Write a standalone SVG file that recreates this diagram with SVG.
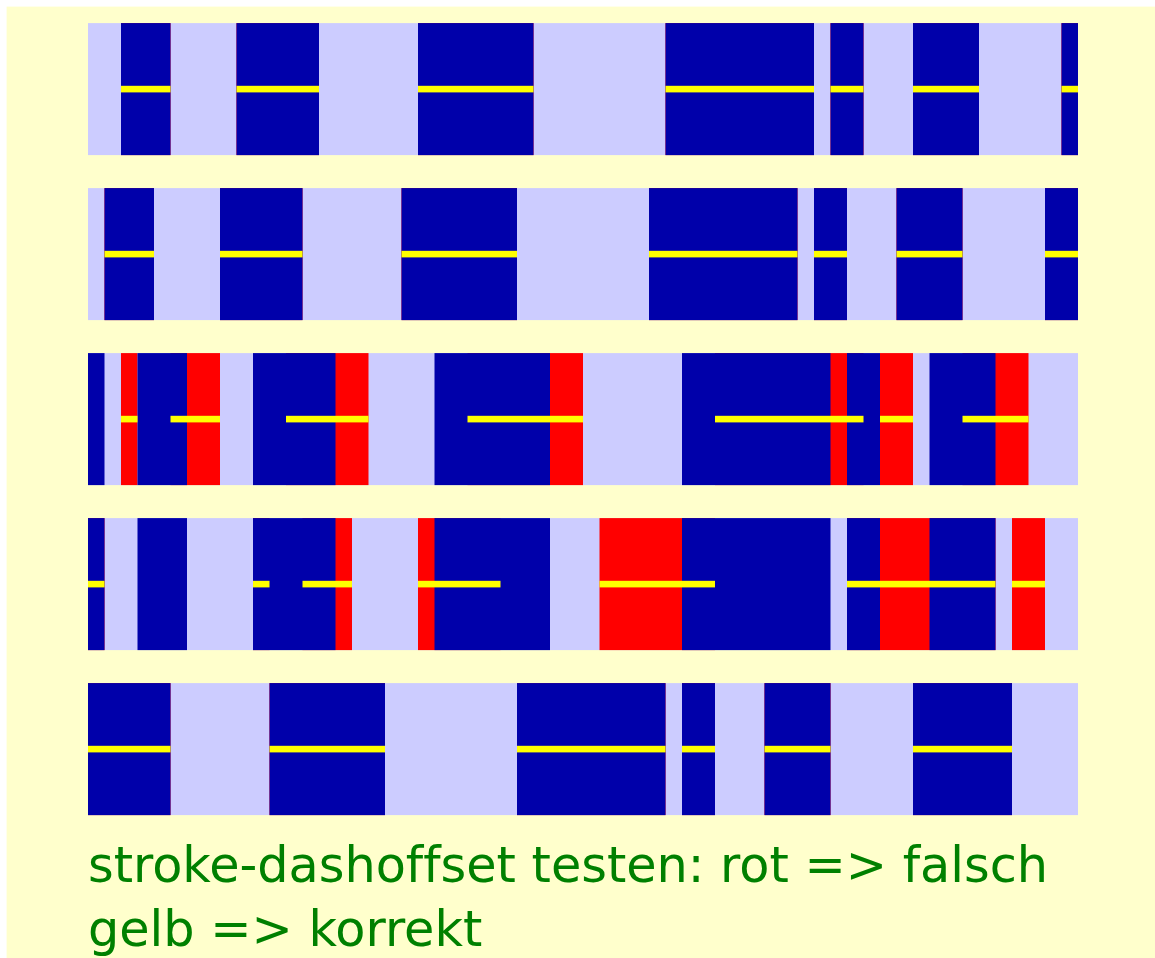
<svg xmlns="http://www.w3.org/2000/svg" width="1155" height="958" viewBox="0 0 1155 958">
<style>
.bg{fill:#ffffcc}
.band{fill:#ccccff}
.r{fill:#ff0000}
.b{fill:#0000aa}
.y{fill:#ffff00}
.t{fill:#008000;font-family:"DejaVu Sans",sans-serif;font-size:49.3px;font-variant-ligatures:none;font-feature-settings:"liga" 0}
</style>
<rect class="bg" x="6.6" y="6.6" width="1160" height="960"/>
<g transform="translate(88,23.1) scale(16.5)">
<g id="row1">
<rect class="band" x="0" y="0" width="60" height="8"/>
<g class="r"><rect x="2" y="0" width="3" height="8"/><rect x="9" y="0" width="5" height="8"/><rect x="20" y="0" width="7" height="8"/><rect x="35" y="0" width="9" height="8"/><rect x="45" y="0" width="2" height="8"/><rect x="50" y="0" width="4" height="8"/><rect x="59" y="0" width="1" height="8"/></g>
<g class="b"><rect x="2" y="0" width="3" height="8"/><rect x="9" y="0" width="5" height="8"/><rect x="20" y="0" width="7" height="8"/><rect x="35" y="0" width="9" height="8"/><rect x="45" y="0" width="2" height="8"/><rect x="50" y="0" width="4" height="8"/><rect x="59" y="0" width="1" height="8"/></g>
<g class="y"><rect x="2" y="3.8" width="3" height="0.4"/><rect x="9" y="3.8" width="5" height="0.4"/><rect x="20" y="3.8" width="7" height="0.4"/><rect x="35" y="3.8" width="9" height="0.4"/><rect x="45" y="3.8" width="2" height="0.4"/><rect x="50" y="3.8" width="4" height="0.4"/><rect x="59" y="3.8" width="1" height="0.4"/></g>
</g>
<g id="row2" transform="translate(0,10)">
<rect class="band" x="0" y="0" width="60" height="8"/>
<g class="r"><rect x="1" y="0" width="3" height="8"/><rect x="8" y="0" width="5" height="8"/><rect x="19" y="0" width="7" height="8"/><rect x="34" y="0" width="9" height="8"/><rect x="44" y="0" width="2" height="8"/><rect x="49" y="0" width="4" height="8"/><rect x="58" y="0" width="2" height="8"/></g>
<g class="b"><rect x="1" y="0" width="3" height="8"/><rect x="8" y="0" width="5" height="8"/><rect x="19" y="0" width="7" height="8"/><rect x="34" y="0" width="9" height="8"/><rect x="44" y="0" width="2" height="8"/><rect x="49" y="0" width="4" height="8"/><rect x="58" y="0" width="2" height="8"/></g>
<g class="y"><rect x="1" y="3.8" width="3" height="0.4"/><rect x="8" y="3.8" width="5" height="0.4"/><rect x="19" y="3.8" width="7" height="0.4"/><rect x="34" y="3.8" width="9" height="0.4"/><rect x="44" y="3.8" width="2" height="0.4"/><rect x="49" y="3.8" width="4" height="0.4"/><rect x="58" y="3.8" width="2" height="0.4"/></g>
</g>
<g id="row3" transform="translate(0,20)">
<rect class="band" x="0" y="0" width="60" height="8"/>
<g class="r"><rect x="2" y="0" width="1" height="8"/><rect x="5" y="0" width="3" height="8"/><rect x="12" y="0" width="5" height="8"/><rect x="23" y="0" width="7" height="8"/><rect x="38" y="0" width="9" height="8"/><rect x="48" y="0" width="2" height="8"/><rect x="53" y="0" width="4" height="8"/></g>
<g class="b"><rect x="0" y="0" width="1" height="8"/><rect x="3" y="0" width="3" height="8"/><rect x="10" y="0" width="5" height="8"/><rect x="21" y="0" width="7" height="8"/><rect x="36" y="0" width="9" height="8"/><rect x="46" y="0" width="2" height="8"/><rect x="51" y="0" width="4" height="8"/></g>
<g class="y"><rect x="2" y="3.8" width="1" height="0.4"/><rect x="5" y="3.8" width="3" height="0.4"/><rect x="12" y="3.8" width="5" height="0.4"/><rect x="23" y="3.8" width="7" height="0.4"/><rect x="38" y="3.8" width="9" height="0.4"/><rect x="48" y="3.8" width="2" height="0.4"/><rect x="53" y="3.8" width="4" height="0.4"/></g>
</g>
<g id="row4" transform="translate(0,30)">
<rect class="band" x="0" y="0" width="60" height="8"/>
<g class="r"><rect x="0" y="0" width="1" height="8"/><rect x="10" y="0" width="1" height="8"/><rect x="13" y="0" width="3" height="8"/><rect x="20" y="0" width="5" height="8"/><rect x="31" y="0" width="7" height="8"/><rect x="46" y="0" width="9" height="8"/><rect x="56" y="0" width="2" height="8"/></g>
<g class="b"><rect x="0" y="0" width="1" height="8"/><rect x="3" y="0" width="3" height="8"/><rect x="10" y="0" width="5" height="8"/><rect x="21" y="0" width="7" height="8"/><rect x="36" y="0" width="9" height="8"/><rect x="46" y="0" width="2" height="8"/><rect x="51" y="0" width="4" height="8"/></g>
<g class="y"><rect x="0" y="3.8" width="1" height="0.4"/><rect x="10" y="3.8" width="1" height="0.4"/><rect x="13" y="3.8" width="3" height="0.4"/><rect x="20" y="3.8" width="5" height="0.4"/><rect x="31" y="3.8" width="7" height="0.4"/><rect x="46" y="3.8" width="9" height="0.4"/><rect x="56" y="3.8" width="2" height="0.4"/></g>
</g>
<g id="row5" transform="translate(0,40)">
<rect class="band" x="0" y="0" width="60" height="8"/>
<g class="r"><rect x="0" y="0" width="5" height="8"/><rect x="11" y="0" width="7" height="8"/><rect x="26" y="0" width="9" height="8"/><rect x="36" y="0" width="2" height="8"/><rect x="41" y="0" width="4" height="8"/><rect x="50" y="0" width="6" height="8"/></g>
<g class="b"><rect x="0" y="0" width="5" height="8"/><rect x="11" y="0" width="7" height="8"/><rect x="26" y="0" width="9" height="8"/><rect x="36" y="0" width="2" height="8"/><rect x="41" y="0" width="4" height="8"/><rect x="50" y="0" width="6" height="8"/></g>
<g class="y"><rect x="0" y="3.8" width="5" height="0.4"/><rect x="11" y="3.8" width="7" height="0.4"/><rect x="26" y="3.8" width="9" height="0.4"/><rect x="36" y="3.8" width="2" height="0.4"/><rect x="41" y="3.8" width="4" height="0.4"/><rect x="50" y="3.8" width="6" height="0.4"/></g>
</g>
</g>
<g id="caption">
<text class="t" x="88" y="882">stroke-dashoffset testen: rot =&gt; falsch</text>
<text class="t" x="88" y="946">gelb =&gt; korrekt</text>
</g>
</svg>
